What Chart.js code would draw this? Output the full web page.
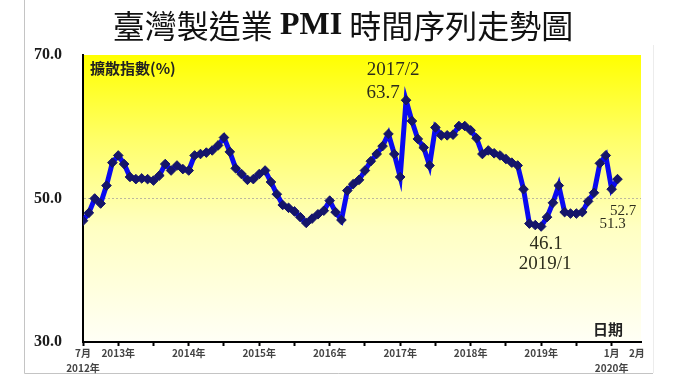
<!DOCTYPE html>
<html><head><meta charset="utf-8">
<script src="https://cdn.jsdelivr.net/npm/chart.js@4.4.1/dist/chart.umd.min.js"></script>
<style>html,body{margin:0;padding:0;background:#fff}#wrap{width:680px;height:383px;position:relative}</style>
</head><body><div id="wrap"><canvas id="c" width="680" height="383"></canvas></div>
<script>
// ---- data ----
const titleText = '臺灣製造業 PMI 時間序列走勢圖';
const yTitle = '擴散指數(%)';
const xTitle = '日期';
const months = [];
for (let yy = 2012; yy <= 2020; yy++) for (let mm = 1; mm <= 12; mm++) {
  if ((yy === 2012 && mm < 7) || (yy === 2020 && mm > 2)) continue;
  months.push(yy + '/' + mm);
}
const pmi2012 = [46.9, 48.0, 50.0, 49.3, 51.8, 55.0];
const pmi2013 = [56.0, 54.8, 53.0, 52.7, 52.8, 52.7, 52.5, 53.2, 54.8, 53.9, 54.6, 54.1];
const pmi2014 = [53.9, 56.0, 56.2, 56.4, 56.7, 57.4, 58.5, 56.5, 54.2, 53.4, 52.6, 52.7];
const pmi2015 = [53.4, 53.9, 52.3, 50.6, 49.1, 48.7, 48.2, 47.4, 46.6, 47.2, 47.8, 48.3];
const pmi2016 = [49.7, 48.1, 47.0, 51.1, 52.0, 52.6, 53.9, 55.2, 56.2, 57.3, 59.0, 56.2];
const pmi2017 = [53.0, 63.7, 60.8, 58.3, 57.1, 54.6, 59.9, 58.8, 58.8, 58.9, 60.1, 60.1];
const pmi2018 = [59.5, 58.4, 56.2, 56.7, 56.3, 56.0, 55.5, 55.0, 54.6, 51.3, 46.5, 46.3];
const pmi2019 = [46.1, 47.4, 49.4, 51.8, 48.1, 47.9, 47.9, 48.1, 49.6, 50.8, 54.9, 56.0];
const pmi2020 = [51.3, 52.7];
const pmi = [].concat(pmi2012, pmi2013, pmi2014, pmi2015, pmi2016, pmi2017, pmi2018, pmi2019, pmi2020);

const yTickValues = [30, 50, 70];
const refLine = 50;
const xTickMonths = ['2012/7','2013/1','2013/7','2014/1','2014/7','2015/1','2015/7','2016/1','2016/7','2017/1','2017/7','2018/1','2018/7','2019/1','2019/7','2020/1'];
const xTickTexts  = [['7月','2012年'],'2013年','','2014年','','2015年','','2016年','','2017年','','2018年','','2019年','',['1月','2020年']];
const extraTickText = '2月';
const peakMonth = '2017/2';
const lowMonth = '2019/1';
const lastMonths = ['2020/1', '2020/2'];

// ---- build ----
const points = pmi.map((v, i) => ({x: i, y: v}));
const xTickValues = xTickMonths.map(m => months.indexOf(m));
const extraTickValue = months.length - 1 + 3.3;
const tickLabelMap = new Map(xTickValues.map((v, i) => [v, xTickTexts[i]]));
tickLabelMap.set(extraTickValue, extraTickText);

const bgPlugin = {
  id: 'bg',
  beforeDraw(chart) {
    const {ctx, chartArea: {left, top, right, bottom}} = chart;
    ctx.save();
    ctx.strokeStyle = '#c4c4c4'; ctx.lineWidth = 1;
    ctx.beginPath(); ctx.moveTo(24.5, 0); ctx.lineTo(24.5, 373.5); ctx.lineTo(653, 373.5); ctx.stroke();
    ctx.strokeStyle = '#ececec';
    ctx.beginPath(); ctx.moveTo(653.5, 45); ctx.lineTo(653.5, 373); ctx.stroke();
    const g = ctx.createLinearGradient(0, top, 0, bottom);
    g.addColorStop(0, '#ffff00');
    g.addColorStop(0.3, '#ffff6a');
    g.addColorStop(0.6, '#ffffc2');
    g.addColorStop(1, '#fffff6');
    ctx.fillStyle = g;
    ctx.fillRect(left, top, right - left, bottom - top);
    const parts = titleText.split(/(PMI)/);
    const fonts = parts.map(p => p === 'PMI' ? 'bold 32px "Liberation Serif"' : '32px "Noto Sans CJK TC"');
    let total = 0;
    const widths = parts.map((p, i) => { ctx.font = fonts[i]; const w = ctx.measureText(p).width; total += w; return w; });
    let x = 343 - total / 2;
    ctx.fillStyle = '#111';
    ctx.textBaseline = 'middle';
    parts.forEach((p, i) => { ctx.font = fonts[i]; ctx.fillText(p, x, 26); x += widths[i]; });
    ctx.restore();
  }
};

const annotPlugin = {
  id: 'annot',
  afterDatasetsDraw(chart) {
    const {ctx, chartArea, scales: {x, y}} = chart;
    const P = m => { const i = months.indexOf(m); return {px: x.getPixelForValue(i), py: y.getPixelForValue(pmi[i]), v: pmi[i]}; };
    ctx.save();
    ctx.fillStyle = '#2d2d1c';
    ctx.textAlign = 'center'; ctx.textBaseline = 'middle';
    ctx.font = '19px "Liberation Serif"';
    let p = P(peakMonth);
    ctx.fillText(peakMonth, p.px - 13, p.py - 30);
    ctx.fillText(p.v.toFixed(1), p.px - 23, p.py - 7);
    p = P(lowMonth);
    ctx.fillText(p.v.toFixed(1), p.px + 5, p.py + 17.5);
    ctx.fillText(lowMonth, p.px + 4, p.py + 37.5);
    ctx.font = '15px "Liberation Serif"';
    p = P(lastMonths[1]);
    ctx.fillText(p.v.toFixed(1), p.px + 5.5, p.py + 32);
    p = P(lastMonths[0]);
    ctx.fillText(p.v.toFixed(1), p.px + 1, p.py + 35);
    ctx.fillStyle = '#222';
    ctx.font = 'bold 15px "Noto Sans CJK TC"';
    ctx.textAlign = 'left';
    ctx.fillText(yTitle, chartArea.left + 7, chartArea.top + 13);
    ctx.textAlign = 'center';
    ctx.fillText(xTitle, chartArea.right - 33, chartArea.bottom - 13);
    ctx.restore();
  }
};

new Chart(document.getElementById('c'), {
  type: 'line',
  data: {
    datasets: [{
      data: points,
      borderColor: '#0a0af0',
      borderWidth: 5,
      pointStyle: 'rectRot',
      pointRadius: 4.8,
      pointBackgroundColor: '#15156a',
      pointBorderColor: '#15156a',
      pointBorderWidth: 1,
      tension: 0,
      fill: false
    }]
  },
  options: {
    responsive: false,
    animation: false,
    devicePixelRatio: 1,
    layout: {padding: {top: 55, right: 39, left: 0, bottom: 0}},
    plugins: {legend: {display: false}, tooltip: {enabled: false}, title: {display: false}},
    scales: {
      x: {
        type: 'linear',
        min: 0,
        max: 95,
        afterFit: s => { s.height = 41; },
        afterBuildTicks: s => { s.ticks = [...tickLabelMap.keys()].map(v => ({value: v})); },
        ticks: {
          autoSkip: false, maxRotation: 0, padding: 0,
          color: '#444',
          font: {family: '"Noto Sans CJK TC"', size: 10, weight: 'bold', lineHeight: 1.5},
          callback: v => tickLabelMap.has(v) ? tickLabelMap.get(v) : ''
        },
        grid: {
          drawOnChartArea: false, drawTicks: true, tickLength: 4, tickWidth: 2,
          tickColor: c => (c.tick && Number.isInteger(c.tick.value)) ? '#000' : 'rgba(0,0,0,0)'
        },
        border: {display: true, color: '#000', width: 2}
      },
      y: {
        type: 'linear',
        min: yTickValues[0],
        max: yTickValues[yTickValues.length - 1],
        afterFit: s => { s.width = 83; },
        afterBuildTicks: s => { s.ticks = yTickValues.map(v => ({value: v})); },
        ticks: {
          padding: 21,
          color: '#1a1a1a',
          font: {family: '"Liberation Serif"', size: 16, weight: 'bold'},
          callback: v => Number(v).toFixed(1)
        },
        grid: {
          drawTicks: false,
          lineWidth: 1,
          color: c => (c.tick && c.tick.value === refLine) ? '#bdb89c' : 'rgba(0,0,0,0)'
        },
        border: {display: true, color: '#000', width: 2, dash: [2, 2]}
      }
    }
  },
  plugins: [bgPlugin, annotPlugin]
});
</script>
</body></html>
